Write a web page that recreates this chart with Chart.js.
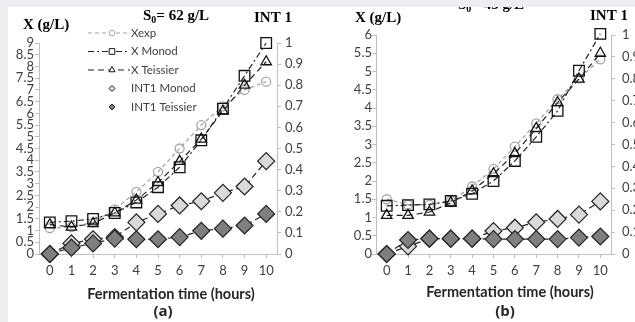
<!DOCTYPE html>
<html>
<head>
<meta charset="utf-8">
<script src="https://cdn.jsdelivr.net/npm/chart.js@4.4.1/dist/chart.umd.min.js"></script>
<style>
  body { margin: 0; background: #eceef1; width: 635px; height: 322px; overflow: hidden; position: relative; }
  #panel { position: absolute; left: 8px; top: 7px; width: 627px; height: 315px; background: #fff; overflow: hidden; }
  .box { position: absolute; top: 0; }
  #boxA { left: 0; width: 310px; height: 315px; }
  #boxB { left: 310px; width: 317px; height: 315px; }
</style>
</head>
<body>
<div id="panel">
  <div class="box" id="boxA"><canvas id="chartA" width="310" height="315"></canvas></div>
  <div class="box" id="boxB"><canvas id="chartB" width="317" height="315"></canvas></div>
</div>
<script>
const hours = ['0', '1', '2', '3', '4', '5', '6', '7', '8', '9', '10'];

// (a) S0 = 62 g/L
const xexpA = [1.1, 1.15, 1.35, 1.9, 2.65, 3.5, 4.5, 5.5, 6.3, 7.0, 7.35];
const xMonodA = [1.35, 1.4, 1.5, 1.75, 2.2, 2.85, 3.7, 4.85, 6.2, 7.6, 9.0];
const xTeissierA = [1.25, 1.15, 1.3, 1.75, 2.3, 3.05, 3.95, 4.9, 6.1, 7.2, 8.2];
const int1MonodA = [0, 0.05, 0.07, 0.08, 0.15, 0.19, 0.23, 0.25, 0.29, 0.32, 0.44];
const int1TeissierA = [0, 0.03, 0.05, 0.073, 0.07, 0.07, 0.08, 0.11, 0.12, 0.135, 0.19];

// (b) S0 = 45 g/L
const xexpB = [1.5, 1.35, 1.35, 1.45, 1.85, 2.33, 2.94, 3.58, 4.24, 4.81, 5.33];
const xMonodB = [1.32, 1.34, 1.36, 1.45, 1.65, 2.0, 2.55, 3.21, 3.92, 5.02, 6.03];
const xTeissierB = [1.06, 1.06, 1.15, 1.4, 1.73, 2.2, 2.75, 3.44, 4.15, 4.79, 5.5];
const int1MonodB = [0, 0.035, 0.07, 0.07, 0.07, 0.105, 0.12, 0.145, 0.16, 0.18, 0.24];
const int1TeissierB = [0, 0.064, 0.07, 0.07, 0.07, 0.068, 0.068, 0.068, 0.068, 0.075, 0.08];

const legendNames = ['Xexp', 'X Monod', 'X Teissier', 'INT1 Monod', 'INT1 Teissier'];

const tickFont = { family: 'Lato', size: 13 };
const tickColor = '#404040';
const axisGray = '#bfbfbf';

function makeDatasets(xexp, xMonod, xTeissier, intMonod, intTeissier) {
  return [
    {
      label: legendNames[0], data: xexp, yAxisID: 'y', order: 5, clip: false,
      borderColor: '#a6a6a6', borderWidth: 1.3, borderDash: [4, 3],
      pointStyle: 'circle', pointRadius: 4.5, pointBorderWidth: 1.3,
      pointBorderColor: '#a6a6a6', pointBackgroundColor: 'rgba(0,0,0,0)'
    },
    {
      label: legendNames[1], data: xMonod, yAxisID: 'y', order: 4, clip: false,
      borderColor: '#222', borderWidth: 1.2, borderDash: [6, 3, 2, 3],
      pointStyle: 'rect', pointRadius: 7.5, pointBorderWidth: 1.3,
      pointBorderColor: '#111', pointBackgroundColor: 'rgba(0,0,0,0)'
    },
    {
      label: legendNames[2], data: xTeissier, yAxisID: 'y', order: 3, clip: false,
      borderColor: '#222', borderWidth: 1.2, borderDash: [6, 4],
      pointStyle: 'triangle', pointRadius: 6, pointBorderWidth: 1.3,
      pointBorderColor: '#111', pointBackgroundColor: 'rgba(0,0,0,0)'
    },
    {
      label: legendNames[3], data: intMonod, yAxisID: 'y1', order: 2, clip: false,
      borderColor: '#222', borderWidth: 1.2, borderDash: [6, 4],
      pointStyle: 'rectRot', pointRadius: 8.5, pointBorderWidth: 1.2,
      pointBorderColor: '#222', pointBackgroundColor: '#d9d9d9'
    },
    {
      label: legendNames[4], data: intTeissier, yAxisID: 'y1', order: 1, clip: false,
      borderColor: '#222', borderWidth: 1.2, borderDash: [6, 4],
      pointStyle: 'rectRot', pointRadius: 8.5, pointBorderWidth: 1.2,
      pointBorderColor: '#222', pointBackgroundColor: '#7f7f7f'
    }
  ];
}

function trimNum(v) { return String(+v.toFixed(2)); }

function makeScales(leftMax, leftW, rightW, leftPad, rightPad) {
  return {
    x: {
      type: 'category', offset: true,
      grid: { drawOnChartArea: false, color: axisGray, tickLength: 4 },
      border: { color: axisGray },
      ticks: { color: tickColor, font: tickFont, padding: 5, maxRotation: 0, autoSkip: false },
      afterFit: (s) => { s.height = 30; }
    },
    y: {
      position: 'left', min: 0, max: leftMax,
      grid: { drawOnChartArea: false, color: axisGray, tickLength: 4 },
      border: { color: axisGray },
      ticks: { stepSize: 0.5, autoSkip: false, color: tickColor, font: tickFont, padding: leftPad, callback: trimNum },
      afterFit: (s) => { s.width = leftW; }
    },
    y1: {
      position: 'right', min: 0, max: 1,
      grid: { drawOnChartArea: false, color: axisGray, tickLength: 4 },
      border: { color: axisGray },
      ticks: { stepSize: 0.1, autoSkip: false, color: tickColor, font: tickFont, padding: rightPad, callback: trimNum },
      afterFit: (s) => { s.width = rightW; }
    }
  };
}

// legend drawn by hand so it can sit inside the plot like the excel one
const sideLegend = {
  id: 'sideLegend',
  afterDraw(chart, args, opts) {
    if (!opts.show) return;
    const ctx = chart.ctx;
    const sizes = [2.8, 4, 3.5, 3, 3];
    chart.data.datasets.forEach((ds, i) => {
      const y = opts.top + i * opts.gap;
      ctx.save();
      if (i < 3) {
        ctx.strokeStyle = ds.borderColor;
        ctx.lineWidth = 1.2;
        ctx.setLineDash(ds.borderDash);
        ctx.beginPath();
        ctx.moveTo(opts.x0, y);
        ctx.lineTo(opts.x1, y);
        ctx.stroke();
        ctx.setLineDash([]);
      }
      ctx.strokeStyle = ds.pointBorderColor;
      ctx.fillStyle = i < 3 ? '#fff' : ds.pointBackgroundColor;
      ctx.lineWidth = 1;
      Chart.helpers.drawPoint(ctx, { pointStyle: ds.pointStyle, radius: sizes[i], borderWidth: 1, rotation: 0 }, opts.xm, y);
      ctx.fillStyle = '#404040';
      ctx.font = '11.5px Lato';
      ctx.textAlign = 'left';
      ctx.textBaseline = 'middle';
      ctx.fillText(ds.label, opts.tx, y);
      ctx.restore();
    });
  }
};

// titles and axis names placed by hand
const freeText = {
  id: 'freeText',
  afterDraw(chart, args, opts) {
    const ctx = chart.ctx;
    ctx.save();
    ctx.textBaseline = 'middle';
    ctx.fillStyle = '#000';
    ctx.font = 'bold 15px "Liberation Serif"';
    ctx.textAlign = 'left';
    ctx.fillText('X (g/L)', opts.xLabel[0], opts.xLabel[1]);
    ctx.fillText('INT 1', opts.intLabel[0], opts.intLabel[1]);

    // S0 with a subscript zero
    let x = opts.s0[0];
    const y = opts.s0[1];
    ctx.fillText('S', x, y);
    x += ctx.measureText('S').width;
    ctx.font = 'bold 10px "Liberation Serif"';
    ctx.fillText('0', x, y + 4);
    x += ctx.measureText('0').width;
    ctx.font = 'bold 15px "Liberation Serif"';
    ctx.fillText('= ' + opts.s0Text, x, y);

    ctx.fillStyle = '#262626';
    ctx.textAlign = 'center';
    ctx.font = 'bold 14.5px Lato';
    ctx.fillText('Fermentation time (hours)', opts.title[0], opts.title[1]);
    ctx.font = 'bold 15px "Open Sans"';
    ctx.fillText(opts.tag, opts.tagPos[0], opts.tagPos[1]);
    ctx.restore();
  }
};

function drawPanel(canvasId, datasets, scales, padTop, legend, text) {
  return new Chart(document.getElementById(canvasId), {
    type: 'line',
    data: { labels: hours, datasets: datasets },
    options: {
      responsive: false,
      animation: false,
      layout: { padding: { top: padTop, bottom: 38, left: 0, right: 0 } },
      elements: { line: { tension: 0, fill: false } },
      plugins: {
        legend: { display: false },
        tooltip: { enabled: false },
        sideLegend: legend,
        freeText: text
      },
      scales: scales
    },
    plugins: [sideLegend, freeText]
  });
}

drawPanel('chartA',
  makeDatasets(xexpA, xMonodA, xTeissierA, int1MonodA, int1TeissierA),
  makeScales(9, 31, 41, 1, 4),
  36,
  { show: true, top: 26, gap: 18.5, x0: 80, x1: 122, xm: 104, tx: 123 },
  { xLabel: [15, 18], intLabel: [246, 11], s0: [135, 9], s0Text: '62 g/L',
    title: [163, 287], tag: '(a)', tagPos: [155, 305] }
);

drawPanel('chartB',
  makeDatasets(xexpB, xMonodB, xTeissierB, int1MonodB, int1TeissierB),
  makeScales(6, 58, 24, 0, 7),
  28,
  { show: false },
  { xLabel: [37, 11], intLabel: [272, 9], s0: [140, -2], s0Text: '45 g/L',
    title: [192, 285], tag: '(b)', tagPos: [187, 305] }
);
</script>
</body>
</html>
